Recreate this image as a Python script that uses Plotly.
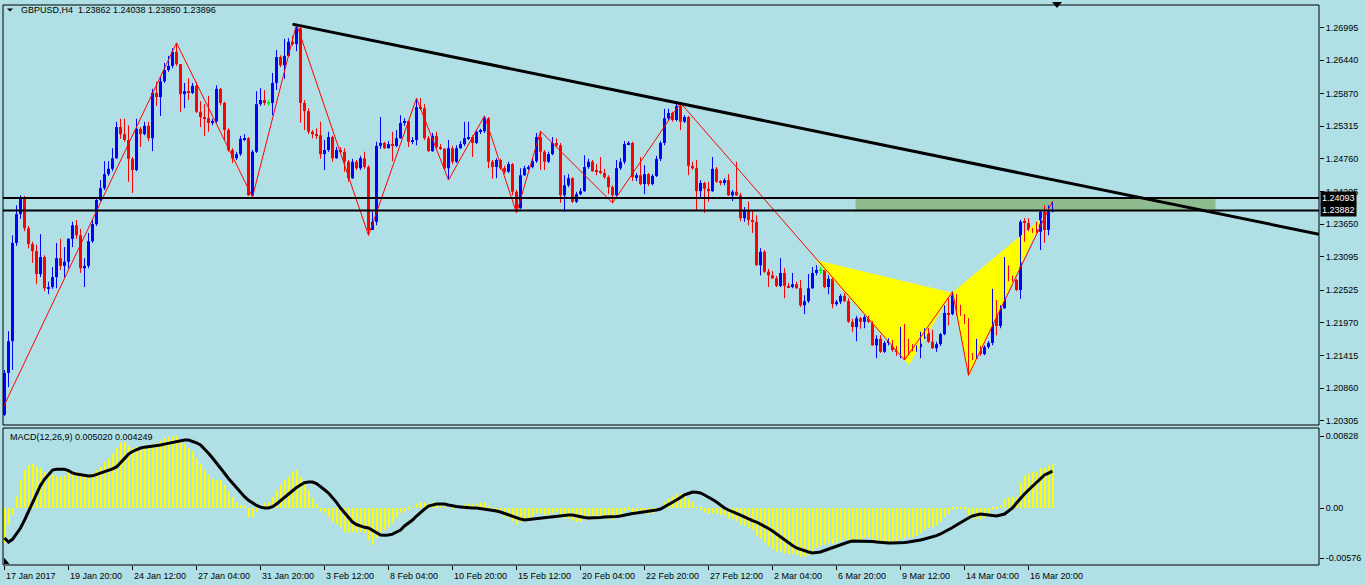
import plotly.graph_objects as go

# ---------------- data ----------------
SYMBOL = "GBPUSD,H4"
first_open = 1.2041

closes = [
    1.2112, 1.2166, 1.2333, 1.2382, 1.2409, 1.2358, 1.2331, 1.2319, 1.2280, 1.2309,
    1.2256, 1.2258, 1.2275, 1.2307, 1.2294, 1.2301, 1.2340, 1.2363, 1.2346, 1.2290,
    1.2294, 1.2336, 1.2365, 1.2406, 1.2426, 1.2450, 1.2459, 1.2477, 1.2530, 1.2518,
    1.2508, 1.2476, 1.2457, 1.2527, 1.2518, 1.2532, 1.2511, 1.2588, 1.2581, 1.2608,
    1.2627, 1.2634, 1.2658, 1.2637, 1.2586, 1.2591, 1.2588, 1.2600, 1.2556, 1.2547,
    1.2545, 1.2537, 1.2540, 1.2595, 1.2571, 1.2525, 1.2491, 1.2477, 1.2484, 1.2510,
    1.2511, 1.2414, 1.2488, 1.2569, 1.2576, 1.2571, 1.2571, 1.2605, 1.2649, 1.2635,
    1.2651, 1.2675, 1.2671, 1.2698, 1.2571, 1.2557, 1.2522, 1.2518, 1.2516, 1.2484,
    1.2491, 1.2513, 1.2477, 1.2491, 1.2488, 1.2471, 1.2443, 1.2471, 1.2460, 1.2477,
    1.2462, 1.2355, 1.2369, 1.2498, 1.2503, 1.2494, 1.2501, 1.2498, 1.2511, 1.2537,
    1.2540, 1.2505, 1.2508, 1.2564, 1.2562, 1.2511, 1.2489, 1.2515, 1.2496, 1.2493,
    1.2460, 1.2494, 1.2471, 1.2494, 1.2501, 1.2511, 1.2513, 1.2503, 1.2522, 1.2523,
    1.2545, 1.2471, 1.2462, 1.2474, 1.2460, 1.2454, 1.2467, 1.2420, 1.2392, 1.2448,
    1.2460, 1.2462, 1.2472, 1.2513, 1.2488, 1.2471, 1.2484, 1.2503, 1.2499, 1.2414,
    1.2431, 1.2443, 1.2403, 1.2416, 1.2421, 1.2462, 1.2471, 1.2455, 1.2454, 1.2452,
    1.2445, 1.2428, 1.2414, 1.2460, 1.2471, 1.2501, 1.2503, 1.2445, 1.2448, 1.2433,
    1.2450, 1.2433, 1.2447, 1.2476, 1.2503, 1.2545, 1.2554, 1.2542, 1.2566, 1.2539,
    1.2547, 1.2464, 1.2460, 1.2421, 1.2435, 1.2425, 1.2421, 1.2459, 1.2437, 1.2435,
    1.2440, 1.2414, 1.2420, 1.2414, 1.2375, 1.2389, 1.2372, 1.2369, 1.2295, 1.2318,
    1.2284, 1.2278, 1.2273, 1.2260, 1.2282, 1.2260, 1.2258, 1.2263, 1.2256, 1.2227,
    1.2234, 1.2256, 1.2282, 1.2287, 1.2287, 1.2258, 1.2272, 1.2229, 1.2233, 1.2243,
    1.2234, 1.2199, 1.2190, 1.2205, 1.2199, 1.2207, 1.2199, 1.2159, 1.2170, 1.2148,
    1.2163, 1.2166, 1.2151, 1.2148, 1.2182, 1.2166, 1.2159, 1.2151, 1.2156, 1.2171,
    1.2180, 1.2165, 1.2154, 1.2161, 1.2178, 1.2214, 1.2212, 1.2244, 1.2226, 1.2210,
    1.2197, 1.2137, 1.2136, 1.2156, 1.2144, 1.2156, 1.2163, 1.2226, 1.2192, 1.2222,
    1.2289, 1.2272, 1.2270, 1.2253, 1.2369, 1.2367, 1.2355, 1.2353, 1.2352, 1.2386,
    1.2355, 1.23862, 1.23896,
]

highs = [
    1.2117, 1.2183, 1.2346, 1.2397, 1.2414, 1.2413, 1.2362, 1.2335, 1.2330, 1.2348,
    1.2312, 1.2267, 1.2292, 1.2333, 1.2340, 1.2326, 1.2341, 1.2369, 1.2372, 1.2357,
    1.2307, 1.2350, 1.2372, 1.2409, 1.2440, 1.2472, 1.2472, 1.2494, 1.2539, 1.2544,
    1.2544, 1.2533, 1.2479, 1.2544, 1.2530, 1.2539, 1.2539, 1.2595, 1.2607, 1.2615,
    1.2639, 1.2651, 1.2664, 1.2673, 1.2637, 1.2605, 1.2613, 1.2605, 1.2607, 1.2574,
    1.2569, 1.2583, 1.2544, 1.2601, 1.2596, 1.2573, 1.2528, 1.2494, 1.2488, 1.2515,
    1.2518, 1.2513, 1.2491, 1.2591, 1.2596, 1.2593, 1.2576, 1.2622, 1.2661, 1.2652,
    1.2680, 1.2681, 1.2685, 1.2705, 1.2702, 1.2576, 1.2562, 1.2525, 1.2528, 1.2539,
    1.2508, 1.2522, 1.2515, 1.2496, 1.2496, 1.2494, 1.2474, 1.2476, 1.2474, 1.2481,
    1.2488, 1.2465, 1.2386, 1.2505, 1.2547, 1.2505, 1.2506, 1.2522, 1.2525, 1.2550,
    1.2545, 1.2542, 1.2513, 1.2579, 1.2579, 1.2569, 1.2515, 1.2520, 1.2522, 1.2501,
    1.2494, 1.2508, 1.2498, 1.2499, 1.2506, 1.2539, 1.2539, 1.2516, 1.2525, 1.2527,
    1.2549, 1.2547, 1.2474, 1.2477, 1.2476, 1.2464, 1.2471, 1.2469, 1.2423, 1.2460,
    1.2464, 1.2465, 1.2477, 1.2520, 1.2523, 1.2491, 1.2488, 1.2513, 1.2511, 1.2503,
    1.2448, 1.2450, 1.2445, 1.2420, 1.2426, 1.2482, 1.2476, 1.2474, 1.2467, 1.2479,
    1.2459, 1.2448, 1.2431, 1.2474, 1.2477, 1.2506, 1.2506, 1.2505, 1.2452, 1.2479,
    1.2465, 1.2452, 1.2450, 1.2481, 1.2506, 1.2561, 1.2561, 1.2556, 1.2569, 1.2571,
    1.2550, 1.2549, 1.2471, 1.2474, 1.2440, 1.2437, 1.2437, 1.2479, 1.2462, 1.2440,
    1.2443, 1.2450, 1.2423, 1.2471, 1.2418, 1.2394, 1.2403, 1.2389, 1.2380, 1.2324,
    1.2321, 1.2289, 1.2285, 1.2277, 1.2307, 1.2290, 1.2265, 1.2282, 1.2267, 1.2270,
    1.2244, 1.2280, 1.2292, 1.2295, 1.2292, 1.2287, 1.2278, 1.2273, 1.2236, 1.2246,
    1.2248, 1.2239, 1.2204, 1.2209, 1.2207, 1.2210, 1.2209, 1.2200, 1.2176, 1.2176,
    1.2166, 1.2171, 1.2168, 1.2158, 1.2190, 1.2195, 1.2170, 1.2161, 1.2159, 1.2182,
    1.2188, 1.2188, 1.2185, 1.2165, 1.2180, 1.2227, 1.2239, 1.2250, 1.2246, 1.2228,
    1.2212, 1.2205, 1.2146, 1.2170, 1.2158, 1.2159, 1.2166, 1.2255, 1.2236, 1.2227,
    1.2309, 1.2295, 1.2277, 1.2272, 1.2372, 1.2375, 1.2375, 1.2358, 1.2369, 1.2389,
    1.2397, 1.2397, 1.24038,
]

lows = [
    1.2039, 1.2088, 1.2117, 1.2328, 1.2374, 1.2353, 1.2324, 1.2299, 1.2263, 1.2275,
    1.2251, 1.2246, 1.2255, 1.2256, 1.2287, 1.2275, 1.2290, 1.2326, 1.2340, 1.2282,
    1.2258, 1.2290, 1.2333, 1.2362, 1.2404, 1.2423, 1.2447, 1.2455, 1.2476, 1.2510,
    1.2505, 1.2437, 1.2418, 1.2455, 1.2496, 1.2516, 1.2506, 1.2489, 1.2566, 1.2549,
    1.2605, 1.2624, 1.2630, 1.2634, 1.2556, 1.2562, 1.2576, 1.2586, 1.2554, 1.2530,
    1.2515, 1.2522, 1.2533, 1.2537, 1.2567, 1.2508, 1.2488, 1.2469, 1.2474, 1.2481,
    1.2506, 1.2413, 1.2411, 1.2486, 1.2566, 1.2567, 1.2566, 1.2550, 1.2593, 1.2632,
    1.2612, 1.2649, 1.2668, 1.2659, 1.2537, 1.2525, 1.2518, 1.2511, 1.2510, 1.2476,
    1.2457, 1.2488, 1.2471, 1.2476, 1.2484, 1.2454, 1.2437, 1.2442, 1.2457, 1.2457,
    1.2459, 1.2346, 1.2355, 1.2363, 1.2493, 1.2493, 1.2494, 1.2472, 1.2496, 1.2510,
    1.2532, 1.2496, 1.2501, 1.2499, 1.2559, 1.2508, 1.2488, 1.2488, 1.2493, 1.2491,
    1.2457, 1.2440, 1.2467, 1.2469, 1.2493, 1.2498, 1.2508, 1.2479, 1.2501, 1.2518,
    1.2520, 1.2460, 1.2442, 1.2443, 1.2457, 1.2450, 1.2452, 1.2414, 1.2384, 1.2391,
    1.2447, 1.2457, 1.2460, 1.2469, 1.2457, 1.2457, 1.2469, 1.2482, 1.2496, 1.2401,
    1.2386, 1.2428, 1.2401, 1.2401, 1.2414, 1.2420, 1.2459, 1.2454, 1.2448, 1.2450,
    1.2442, 1.2416, 1.2401, 1.2413, 1.2457, 1.2467, 1.2499, 1.2438, 1.2438, 1.2431,
    1.2416, 1.2430, 1.2431, 1.2445, 1.2472, 1.2499, 1.2542, 1.2539, 1.2540, 1.2525,
    1.2537, 1.2448, 1.2457, 1.2389, 1.2411, 1.2384, 1.2403, 1.2420, 1.2435, 1.2431,
    1.2431, 1.2413, 1.2404, 1.2413, 1.2370, 1.2369, 1.2363, 1.2350, 1.2294, 1.2278,
    1.2282, 1.2258, 1.2272, 1.2258, 1.2258, 1.2239, 1.2256, 1.2256, 1.2255, 1.2224,
    1.2212, 1.2231, 1.2255, 1.2278, 1.2280, 1.2256, 1.2246, 1.2222, 1.2226, 1.2229,
    1.2233, 1.2197, 1.2182, 1.2166, 1.2187, 1.2188, 1.2197, 1.2158, 1.2137, 1.2146,
    1.2146, 1.2159, 1.2148, 1.2141, 1.2137, 1.2134, 1.2142, 1.2149, 1.2148, 1.2137,
    1.2170, 1.2163, 1.2153, 1.2148, 1.2158, 1.2176, 1.2193, 1.2210, 1.2210, 1.2209,
    1.2195, 1.2108, 1.2134, 1.2136, 1.2141, 1.2142, 1.2153, 1.2159, 1.2176, 1.2188,
    1.2221, 1.2268, 1.2267, 1.2251, 1.2238, 1.2335, 1.2353, 1.2350, 1.2350, 1.2321,
    1.2333, 1.2346, 1.23850,
]

macd_main = [
    -0.00403, -0.00196, -0.00081, 0.00127, 0.00322, 0.00437, 0.00495, 0.00506, 0.00483, 0.00460,
    0.00414, 0.00380, 0.00380, 0.00368, 0.00357, 0.00368, 0.00414, 0.00426, 0.00414, 0.00380,
    0.00357, 0.00368, 0.00403, 0.00437, 0.00472, 0.00529, 0.00575, 0.00621, 0.00690, 0.00748,
    0.00759, 0.00713, 0.00690, 0.00702, 0.00690, 0.00702, 0.00702, 0.00736, 0.00748, 0.00771,
    0.00805, 0.00817, 0.00828, 0.00828, 0.00771, 0.00736, 0.00690, 0.00656, 0.00575, 0.00506,
    0.00437, 0.00380, 0.00334, 0.00322, 0.00322, 0.00265, 0.00196, 0.00127, 0.00069, 0.00035,
    0.00012, -0.00104, -0.00104, -0.00046, 0.00012, 0.00058, 0.00069, 0.00127, 0.00207, 0.00265,
    0.00322, 0.00357, 0.00414, 0.00437, 0.00357, 0.00288, 0.00207, 0.00115, 0.00046, -0.00035,
    -0.00058, -0.00104, -0.00161, -0.00184, -0.00219, -0.00276, -0.00288, -0.00276, -0.00288, -0.00276,
    -0.00288, -0.00368, -0.00426, -0.00345, -0.00276, -0.00253, -0.00219, -0.00173, -0.00115, -0.00058,
    -0.0004, -0.0002, 0.0001, 0.0005, 0.0007, 0.0006, 0.0005, 0.0006, 0.0005, 0.0004,
    0.0001, 0.0, -0.0001, 0.0, 0.0002, 0.0004, 0.0005, 0.0004, 0.0005, 0.0006,
    0.0007, 0.0002, -0.0003, -0.0004, -0.0007, -0.0010, -0.0011, -0.0015, -0.0019, -0.0016,
    -0.0014, -0.0012, -0.0010, -0.0006, -0.0006, -0.0008, -0.0008, -0.0006, -0.0005, -0.0010,
    -0.0012, -0.0012, -0.0015, -0.0016, -0.0016, -0.0012, -0.0009, -0.0009, -0.0009, -0.0009,
    -0.0010, -0.0012, -0.0014, -0.0011, -0.0008, -0.0004, -0.0002, -0.0005, -0.0006, -0.0007,
    -0.0006, -0.0007, -0.0006, -0.0003, 0.0001, 0.0007, 0.0011, 0.0013, 0.0016, 0.0016,
    0.0017, 0.0011, 0.0007, 0.0001, -0.0002, -0.0005, -0.0007, -0.0006, -0.0007, -0.0008,
    -0.0009, -0.0012, -0.0013, -0.0015, -0.0019, -0.0020, -0.0023, -0.0025, -0.0032, -0.0035,
    -0.0040, -0.0044, -0.0047, -0.0050, -0.0050, -0.0052, -0.0053, -0.0053, -0.0054, -0.0056,
    -0.0056, -0.0054, -0.0050, -0.0046, -0.0043, -0.0042, -0.0040, -0.0041, -0.0040, -0.0038,
    -0.0036, -0.0037, -0.0038, -0.0038, -0.0037, -0.0035, -0.0034, -0.0037, -0.0038, -0.0040,
    -0.0040, -0.0039, -0.0040, -0.0040, -0.0036, -0.0035, -0.0034, -0.0034, -0.0032, -0.0029,
    -0.0025, -0.0023, -0.0022, -0.0020, -0.0016, -0.0010, -0.0007, -0.0002, -0.0001, -0.0001,
    -0.0002, -0.0008, -0.0012, -0.0012, -0.0013, -0.0011, -0.0009, -0.0002, -0.0001, 0.0003,
    0.0010, 0.0012, 0.0013, 0.0012, 0.0030, 0.0037, 0.0040, 0.0041, 0.0042, 0.0046,
    0.0046, 0.0049, 0.00502,
]

macd_signal = [
    -0.00345, -0.00391, -0.00360, -0.00300, -0.00230, -0.00140, -0.00040, 0.00069, 0.00170, 0.00260,
    0.00330, 0.00380, 0.00437, 0.00445, 0.00449, 0.00445, 0.00430, 0.00403, 0.00390, 0.00380,
    0.00372, 0.00368, 0.00370, 0.00385, 0.00400, 0.00414, 0.00430, 0.00450, 0.00472, 0.00520,
    0.00575, 0.00620, 0.00650, 0.00672, 0.00690, 0.00700, 0.00706, 0.00710, 0.00713, 0.00725,
    0.00735, 0.00745, 0.00755, 0.00765, 0.00775, 0.00782, 0.00782, 0.00770, 0.00750, 0.00725,
    0.00680, 0.00630, 0.00575, 0.00520, 0.00460, 0.00400, 0.00340, 0.00288, 0.00230, 0.00180,
    0.00130, 0.00090, 0.00058, 0.00030, 0.00010, 0.00000, 0.00000, 0.00015, 0.00046, 0.00085,
    0.00125, 0.00165, 0.00200, 0.00235, 0.00265, 0.00290, 0.00299, 0.00299, 0.00280, 0.00250,
    0.00210, 0.00173, 0.00125, 0.00065, 0.00000, -0.00050, -0.00110, -0.00161, -0.00190, -0.00210,
    -0.00222, -0.00230, -0.00260, -0.00290, -0.00311, -0.00312, -0.00311, -0.00300, -0.00280, -0.00253,
    -0.00207, -0.00172, -0.00138, -0.00092, -0.00046, -0.00012, 0.00023, 0.00035, 0.00046, 0.00046,
    0.00046, 0.00035, 0.00023, 0.00017, 0.00012, 0.00006, 0.00000, 0.00000, 0.00000, -0.00006,
    -0.00012, -0.00017, -0.00023, -0.00035, -0.00046, -0.00063, -0.00081, -0.00098, -0.00115, -0.00127,
    -0.00138, -0.00133, -0.00127, -0.00121, -0.00115, -0.00110, -0.00104, -0.00098, -0.00092, -0.00087,
    -0.00081, -0.00081, -0.00081, -0.00092, -0.00104, -0.00110, -0.00115, -0.00115, -0.00115, -0.00110,
    -0.00104, -0.00104, -0.00104, -0.00098, -0.00092, -0.00081, -0.00069, -0.00063, -0.00058, -0.00052,
    -0.00046, -0.00040, -0.00035, -0.00023, -0.00012, 0.00012, 0.00035, 0.00063, 0.00092, 0.00121,
    0.00150, 0.00167, 0.00184, 0.00180, 0.00173, 0.00150, 0.00127, 0.00098, 0.00069, 0.00035,
    0.00000, -0.00023, -0.00046, -0.00063, -0.00081, -0.00104, -0.00127, -0.00144, -0.00161, -0.00184,
    -0.00207, -0.00236, -0.00265, -0.00299, -0.00334, -0.00368, -0.00403, -0.00432, -0.00460, -0.00478,
    -0.00495, -0.00506, -0.00518, -0.00512, -0.00506, -0.00489, -0.00472, -0.00455, -0.00437, -0.00420,
    -0.00403, -0.00391, -0.00380, -0.00380, -0.00380, -0.00380, -0.00380, -0.00386, -0.00391, -0.00397,
    -0.00403, -0.00403, -0.00403, -0.00403, -0.00403, -0.00397, -0.00391, -0.00386, -0.00380, -0.00368,
    -0.00357, -0.00345, -0.00334, -0.00317, -0.00299, -0.00276, -0.00253, -0.00225, -0.00196, -0.00167,
    -0.00138, -0.00115, -0.00092, -0.00081, -0.00069, -0.00075, -0.00081, -0.00087, -0.00092, -0.00081,
    -0.00069, -0.00035, 0.00000, 0.00058, 0.00115, 0.00161, 0.00207, 0.00253, 0.00299, 0.00340,
    0.00380, 0.00402, 0.004249,
]

time_labels = ["17 Jan 2017", "19 Jan 20:00", "24 Jan 12:00", "27 Jan 04:00", "31 Jan 20:00",
               "3 Feb 12:00", "8 Feb 04:00", "10 Feb 20:00", "15 Feb 12:00", "20 Feb 04:00",
               "22 Feb 20:00", "27 Feb 12:00", "2 Mar 04:00", "6 Mar 20:00", "9 Mar 12:00",
               "14 Mar 04:00", "16 Mar 20:00"]
label_step = 16  # one time label every 16 H4 bars

price_ticks = [1.26995, 1.26440, 1.25870, 1.25315, 1.24760, 1.24205, 1.23650,
               1.23095, 1.22525, 1.21970, 1.21415, 1.20860, 1.20305]
macd_ticks = [0.00828, 0.0, -0.00576]
macd_tick_text = ["0.00828", "0.00", "-0.00576"]

hline_prices = [1.24093, 1.23882]

zigzag_bars = [-1, 43, 62, 73, 91, 103, 111, 120, 128, 134, 152, 169, 225, 237, 241, 262]
zigzag_prices = [1.2044, 1.2673, 1.2411, 1.2705, 1.2346, 1.2579, 1.2440, 1.2549, 1.2384,
                 1.2523, 1.2401, 1.2571, 1.2134, 1.2250, 1.2108, 1.24038]

# harmonic pattern points X, A, B, C, D
pattern_bars = [202.75, 226.1, 236.9, 241.1, 259.5]
pattern_prices = [1.2304, 1.21255, 1.22484, 1.21056, 1.2376]

trend_bars = [72, 169]
trend_prices = [1.2705, 1.2570]

zone_bars = [212.75, 302.75]
zone_prices = [1.23870, 1.24080]

# ---------------- styling ----------------
BG = "#B0E0E6"
BULL, BEAR, DOJI = "#0000FF", "#FF0000", "#00FF00"
FONT = "Liberation Sans"
X_RANGE = [-0.375, 328.625]
Y_RANGE = [1.20235, 1.27375]
M_RANGE = [-0.006555, 0.0092]
MAIN_DOMAIN = [0.25, 1.0]
MACD_DOMAIN = [0.0, 0.2446]
W, H = 1365, 585
ML, MR, MT, MB = 3, 46, 5, 20
PW, PH = W - ML - MR, H - MT - MB


def px2paper(px, py):
    return (px - ML) / PW, (H - MB - py) / PH


n = len(closes)
idx = list(range(n))
opens = [first_open] + closes[:-1]

fig = go.Figure()

# harmonic pattern triangles (background)
for tri in ([0, 1, 2], [2, 3, 4]):
    xs = [pattern_bars[k] for k in tri] + [pattern_bars[tri[0]]]
    ys = [pattern_prices[k] for k in tri] + [pattern_prices[tri[0]]]
    fig.add_trace(go.Scatter(x=xs, y=ys, mode="lines", fill="toself", fillcolor="#FFFF00",
                             line=dict(width=0, color="#FFFF00"), hoverinfo="skip",
                             xaxis="x", yaxis="y"))

# candles
min_h = 0.00017
colors, bases, heights = [], [], []
wick = {BULL: ([], []), BEAR: ([], []), DOJI: ([], [])}
for i in idx:
    o, c = opens[i], closes[i]
    col = BULL if c > o else (BEAR if c < o else DOJI)
    colors.append(col)
    lo_b, hi_b = min(o, c), max(o, c)
    hgt = hi_b - lo_b
    if hgt < min_h:
        mid = (lo_b + hi_b) / 2
        lo_b, hgt = mid - min_h / 2, min_h
    bases.append(lo_b)
    heights.append(hgt)
    wx, wy = wick[col]
    wx += [i, i, None]
    wy += [lows[i], highs[i], None]

for col, (wx, wy) in wick.items():
    fig.add_trace(go.Scatter(x=wx, y=wy, mode="lines", line=dict(color=col, width=1),
                             hoverinfo="skip", xaxis="x", yaxis="y"))
fig.add_trace(go.Bar(x=idx, y=heights, base=bases, width=0.75,
                     marker=dict(color=colors, line=dict(width=0)),
                     hoverinfo="skip", xaxis="x", yaxis="y"))

# zigzag
fig.add_trace(go.Scatter(x=zigzag_bars, y=zigzag_prices, mode="lines",
                         line=dict(color="#FF0000", width=1), hoverinfo="skip",
                         xaxis="x", yaxis="y"))

# MACD
fig.add_trace(go.Bar(x=idx, y=macd_main, width=0.5, offset=-0.125,
                     marker=dict(color="#FFFF00", line=dict(width=0)),
                     hoverinfo="skip", xaxis="x2", yaxis="y2"))
fig.add_trace(go.Scatter(x=idx, y=macd_signal, mode="lines", line=dict(color="black", width=3),
                         hoverinfo="skip", xaxis="x2", yaxis="y2"))

# ---------------- shapes ----------------
shapes = []
shapes.append(dict(type="rect", xref="x", yref="y", x0=zone_bars[0], x1=zone_bars[1],
                   y0=zone_prices[0], y1=zone_prices[1], fillcolor="#8FBC8F",
                   line=dict(width=0), layer="below"))
slope = (trend_prices[1] - trend_prices[0]) / (trend_bars[1] - trend_bars[0])
t_end_x = X_RANGE[1]
t_end_y = trend_prices[0] + slope * (t_end_x - trend_bars[0])
shapes.append(dict(type="line", xref="x", yref="y", x0=trend_bars[0], y0=trend_prices[0],
                   x1=t_end_x, y1=t_end_y, line=dict(color="black", width=3), layer="above"))
for p in hline_prices:
    shapes.append(dict(type="line", xref="paper", yref="y", x0=0, x1=1, y0=p, y1=p,
                       line=dict(color="black", width=2), layer="above"))
# panel frames
for d in (MAIN_DOMAIN, MACD_DOMAIN):
    shapes.append(dict(type="rect", xref="paper", yref="paper", x0=0, x1=1, y0=d[0], y1=d[1],
                       line=dict(color="black", width=1), fillcolor="rgba(0,0,0,0)", layer="above"))


def tri_path(pts):
    pp = [px2paper(*p) for p in pts]
    return "M {} {} L {} {} L {} {} Z".format(pp[0][0], pp[0][1], pp[1][0], pp[1][1], pp[2][0], pp[2][1])


for pts in ([(7, 8.5), (13, 8.5), (10, 11.5)],
            [(1052, 2), (1062, 2), (1057, 8)],
            [(4, 557.5), (4, 564), (9.5, 564)]):
    shapes.append(dict(type="path", xref="paper", yref="paper", path=tri_path(pts),
                       fillcolor="black", line=dict(width=0), layer="above"))

# ---------------- annotations ----------------
ann = []
tx, ty = px2paper(19, 10)
ann.append(dict(xref="paper", yref="paper", x=tx, y=ty, xanchor="left", yanchor="middle",
                showarrow=False,
                text=f"{SYMBOL}\u00a0\u00a0{opens[-1]:.5f} {highs[-1]:.5f} {lows[-1]:.5f} {closes[-1]:.5f}",
                font=dict(family=FONT, size=9, color="black")))
mx, my = px2paper(8, 437)
ann.append(dict(xref="paper", yref="paper", x=mx, y=my, xanchor="left", yanchor="middle",
                showarrow=False,
                text=f"MACD(12,26,9) {macd_main[-1]:.6f} {macd_signal[-1]:.6f}",
                font=dict(family=FONT, size=9, color="black")))
label_bars = list(range(0, label_step * len(time_labels), label_step))
for b, lab in zip(label_bars, time_labels):
    ann.append(dict(xref="x2", yref="paper", x=b, y=0, xanchor="left", yanchor="top",
                    yshift=-4, xshift=-1, showarrow=False, text=lab,
                    font=dict(family=FONT, size=9, color="black")))
for p in hline_prices:
    ann.append(dict(xref="paper", yref="y", x=1, y=p, xanchor="left", yanchor="middle",
                    xshift=1, showarrow=False, text=f"{p:.5f}", bgcolor="black",
                    borderpad=1, font=dict(family=FONT, size=9, color="white")))

axis_common = dict(showgrid=False, zeroline=False, automargin=False)
fig.update_layout(
    template="none",
    width=W, height=H,
    margin=dict(l=ML, r=MR, t=MT, b=MB, pad=0),
    paper_bgcolor=BG, plot_bgcolor=BG,
    showlegend=False, barmode="overlay",
    font=dict(family=FONT, size=9, color="black"),
    xaxis=dict(domain=[0, 1], range=X_RANGE, anchor="y", showticklabels=False, ticks="",
               **axis_common),
    xaxis2=dict(domain=[0, 1], range=X_RANGE, anchor="y2", matches="x", tickvals=label_bars,
                showticklabels=False, ticks="outside", ticklen=4, tickcolor="black", **axis_common),
    yaxis=dict(domain=MAIN_DOMAIN, range=Y_RANGE, anchor="x", side="right",
               tickvals=price_ticks, tickformat=".5f", ticks="outside", ticklen=4,
               tickcolor="black", tickfont=dict(family=FONT, size=9, color="black"), **axis_common),
    yaxis2=dict(domain=MACD_DOMAIN, range=M_RANGE, anchor="x2", side="right",
                tickvals=macd_ticks, ticktext=macd_tick_text, ticks="outside", ticklen=4,
                tickcolor="black", tickfont=dict(family=FONT, size=9, color="black"), **axis_common),
    shapes=shapes,
    annotations=ann,
)

fig.write_html("out.html", config={"displayModeBar": False},
               post_script="document.body.style.margin='0px';document.body.style.overflow='hidden';")
